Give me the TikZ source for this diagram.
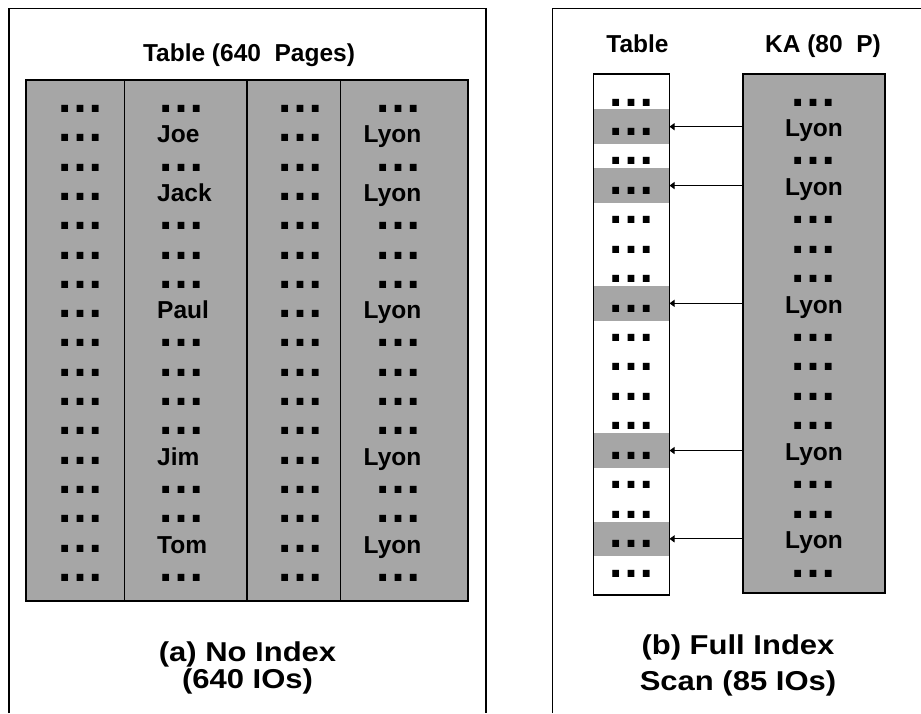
\documentclass[tikz,border=0pt]{standalone}
\usepackage{fontspec}
\setmainfont{Liberation Sans}
\usetikzlibrary{arrows.meta}
\definecolor{dbgray}{HTML}{A6A6A6}

\newcommand{\squash}[1]{\scalebox{1}[0.88]{#1}}
\newcommand{\rowdots}{\scalebox{1.96}{…}}

\tikzset{
  frame/.style={line width=1.6pt},
  sheet/.style={draw, line width=1.6pt, inner sep=0pt},
  cell/.style={anchor=base, inner sep=0pt, font=\fontsize{24.5}{24.5}\selectfont\bfseries},
  dotrow/.style={anchor=base, inner sep=0pt, text height=7pt, text depth=0pt,
    font=\fontsize{24.5}{24.5}\selectfont\bfseries},
  caption/.style={anchor=base, inner sep=0pt, font=\fontsize{31}{31}\selectfont\bfseries},
  hit/.style={fill=dbgray, minimum width=76pt, minimum height=34.5pt, inner sep=0pt},
  ptr/.style={-{Triangle[length=5pt,width=7pt]}, line width=1pt},
}

\begin{document}
\begin{tikzpicture}[x=1pt, y=-1pt]
  \useasboundingbox (0,0) rectangle (921,713);

  % Panels
  \draw[frame] (9,713) -- (9,8.5) -- (486,8.5) -- (486,713);
  \draw[frame] (552.5,713) -- (552.5,8.5) -- (921,8.5);

  % (a) No index
  \node[cell] (titleA) at (249,61) {Table (640~~Pages)};
  \draw[sheet, fill=dbgray] (26,80) rectangle (468,601);
  \foreach \x in {124.5,247,340.3}
    \draw[line width=1.4pt] (\x,80) -- (\x,601);

  \foreach \r in {1,...,17} {
    \node[dotrow] (c1-\r) at (80.5,{112.5+29.3*(\r-1)}) {\rowdots};
    \node[dotrow] (c3-\r) at (300.5,{112.5+29.3*(\r-1)}) {\rowdots};
  }
  \foreach \r in {1,3,5,6,7,9,10,11,12,14,15,17} {
    \node[dotrow, anchor=base west] (c2-\r) at (157,{112.5+29.3*(\r-1)}) {\rowdots};
    \node[dotrow] (c4-\r) at (399,{112.5+29.3*(\r-1)}) {\rowdots};
  }
  \foreach \r/\nm in {2/Joe,4/Jack,8/Paul,13/Jim,16/Tom} {
    \node[cell, anchor=base west] (c2-\r) at (157,{113.5+29.3*(\r-1)}) {\nm};
    \node[cell] (c4-\r) at (392.5,{113.5+29.3*(\r-1)}) {Lyon};
  }

  \node[caption] (capA1) at (247.5,661.5) {\squash{(a) No Index}};
  \node[caption] (capA2) at (247.5,688.5) {\squash{(640 IOs)}};

  % (b) Full index scan
  \node[cell] (titleT) at (637.5,52.5) {Table};
  \node[cell] (titleK) at (823,52.5) {KA (80~~P)};

  \foreach \r in {2,4,8,13,16}
    \node[hit] (hit\r) at (631.3,{106+29.44*(\r-1)-8.75}) {};
  \node[sheet, minimum width=76pt, minimum height=521pt] (tab) at (631.3,334.5) {};
  \foreach \r in {1,...,17}
    \node[dotrow] (t-\r) at (631.3,{106+29.44*(\r-1)}) {\rowdots};

  \node[sheet, fill=dbgray, minimum width=142pt, minimum height=519pt] (ka) at (814,333.5) {};
  \foreach \r in {1,3,5,6,7,9,10,11,12,14,15,17}
    \node[dotrow] (k-\r) at (814,{106+29.44*(\r-1)}) {\rowdots};
  \foreach \r in {2,4,8,13,16} {
    \node[cell] (k-\r) at (814,{107+29.44*(\r-1)}) {Lyon};
    \draw[ptr] (ka.west |- hit\r) -- (hit\r.east);
  }

  \node[caption] (capB1) at (738,654) {\squash{(b) Full Index}};
  \node[caption] (capB2) at (738,690.7) {\squash{Scan (85 IOs)}};
\end{tikzpicture}
\end{document}
